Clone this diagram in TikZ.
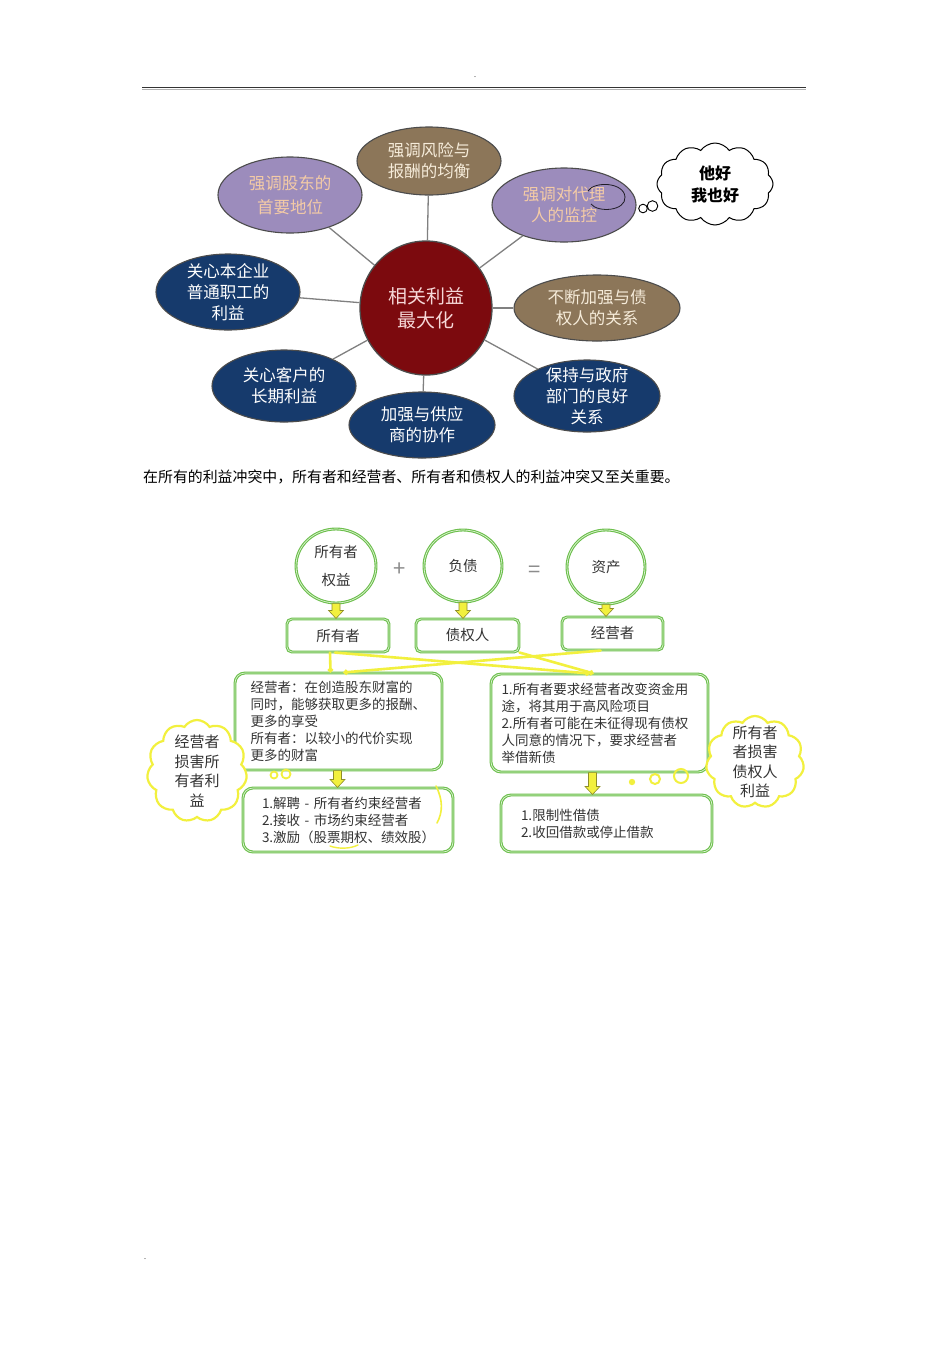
\documentclass[tikz,border=0pt]{standalone}
\usepackage{fontspec}
\setmainfont{Liberation Serif}
\newfontfamily\cjk{Noto Sans CJK SC}
\usetikzlibrary{shapes.geometric,shapes.symbols,arrows.meta,calc}

\definecolor{hubred}{HTML}{7C0A0E}
\definecolor{hubtext}{HTML}{F6D8D8}
\definecolor{taupe}{HTML}{8C7659}
\definecolor{lilac}{HTML}{9C8CBC}
\definecolor{navy}{HTML}{163A6C}
\definecolor{peach}{HTML}{F4CBA6}
\definecolor{cream}{HTML}{F6ECDA}
\definecolor{leaf}{HTML}{6CBF4C}
\definecolor{paleleaf}{HTML}{DDF2D3}
\definecolor{lemon}{HTML}{F2F03E}
\definecolor{mossy}{HTML}{8E8E28}

% fat yellow arrow, #1 top point, #2 tip point
\newcommand{\fatdown}[2]{%
  \path #1 coordinate (fa1);
  \path #2 coordinate (fa2);
  \filldraw[fill=lemon, draw=mossy, line width=0.6pt]
    ($(fa1)+(-4,0)$) -- ($(fa2)+(-4,-8)$) -- ($(fa2)+(-7.5,-8)$) -- (fa2)
    -- ($(fa2)+(7.5,-8)$) -- ($(fa2)+(4,-8)$) -- ($(fa1)+(4,0)$) -- cycle;
}

\begin{document}
\begin{tikzpicture}[x=1pt, y=-1pt,
  bubble/.style={ellipse, draw=black!70, line width=1.1pt, inner sep=-4pt, align=center,
    font=\cjk\fontsize{16.5}{21}\selectfont},
  lilacbubble/.style={bubble, fill=lilac, text=peach},
  taupebubble/.style={bubble, fill=taupe, text=cream},
  navybubble/.style={bubble, fill=navy, text=white},
  spoke/.style={draw=black!50, line width=1.3pt},
  greenline/.style={draw=leaf, line width=1.1pt, double=paleleaf, double distance=0.7pt},
  roundel/.style={ellipse, greenline, fill=white, inner sep=-2pt, align=center,
    font=\cjk\fontsize{14.5}{28}\selectfont, text=black!80},
  rolebox/.style={rounded corners=5pt, greenline, fill=white, inner sep=0pt,
    font=\cjk\fontsize{14.5}{17}\selectfont, text=black!80},
  notebox/.style={rounded corners=10pt, greenline, fill=white, align=left, inner ysep=0pt,
    font=\cjk\fontsize{13.5}{17}\selectfont, text=black!80},
  link/.style={draw=lemon, line width=2.6pt, line cap=round, -{Circle[length=5pt]}},
  yellowcloud/.style={cloud, cloud puffs=11, cloud puff arc=115, cloud ignores aspect,
    draw=lemon, line width=2.2pt, fill=white},
  cloudtext/.style={align=center, font=\cjk\fontsize{15}{19.5}\selectfont, text=black!80},
  thought/.style={cloud, cloud puffs=12, cloud puff arc=110, cloud ignores aspect,
    draw=black, line width=1pt, fill=white}]

  \fill[white] (0,0) rectangle (950,1345);
  \useasboundingbox (0,0) rectangle (950,1345);

  % page header and footer
  \node[font=\fontsize{8}{8}\selectfont] (topdot) at (475,77) {.};
  \draw[line width=1.4pt, black!80] (142,87.5) -- (806,87.5);
  \draw[line width=0.6pt, black!30] (142,89.4) -- (806,89.4);
  \node[font=\fontsize{8}{8}\selectfont] (footdot) at (145,1259) {.};

  % stakeholder map
  \node[ellipse, draw=black!70, line width=1.3pt, fill=hubred, text=hubtext, inner sep=0pt,
    minimum width=132, minimum height=134, align=center,
    font=\cjk\fontsize{19}{24}\selectfont] (hub) at (426,308) {相关利益\\最大化};
  \node[taupebubble, minimum width=144, minimum height=68] (risk) at (429,161) {强调风险与\\报酬的均衡};
  \node[lilacbubble, minimum width=144, minimum height=76,
    font=\cjk\fontsize{16.5}{24}\selectfont] (holder) at (290,195) {强调股东的\\首要地位};
  \node[lilacbubble, minimum width=144, minimum height=74] (agent) at (564,205) {强调对代理\\人的监控};
  \node[navybubble, minimum width=144, minimum height=76] (staff) at (228,292) {关心本企业\\普通职工的\\利益};
  \node[taupebubble, minimum width=166, minimum height=66] (credit) at (597,308) {不断加强与债\\权人的关系};
  \node[navybubble, minimum width=144, minimum height=72] (client) at (284,386) {关心客户的\\长期利益};
  \node[navybubble, minimum width=146, minimum height=66] (supply) at (422,425) {加强与供应\\商的协作};
  \node[navybubble, minimum width=146, minimum height=72] (gov) at (587,396) {保持与政府\\部门的良好\\关系};
  \foreach \b in {risk,holder,agent,staff,credit,client,supply,gov}
    \draw[spoke] (hub) -- (\b);
  % loop drawn round "代"
  \draw[black!80!lilac, line width=0.8pt] (588,191) .. controls (594,181) and (624,182) .. (625,197)
    .. controls (626,211) and (598,213) .. (591,204);

  % thought cloud
  \node[thought, minimum width=116, minimum height=82] (think) at (715,184) {};
  \node[align=center, font=\cjk\bfseries\fontsize{16}{22}\selectfont] (thinktext) at (think.center) {他好\\我也好};
  \draw[line width=0.9pt, fill=white] (643,208.5) circle (4.3);
  \draw[line width=0.9pt, fill=white] (652.5,206) circle (5.3);

  % caption
  \node[anchor=base west, inner sep=0pt, font=\cjk\fontsize{14.9}{17}\selectfont] (caption) at (143,482)
    {在所有的利益冲突中，所有者和经营者、所有者和债权人的利益冲突又至关重要。};

  % accounting equation
  \node[roundel, minimum width=80, minimum height=74] (eq1) at (336,566) {所有者\\权益};
  \node[font=\cjk\fontsize{22}{22}\selectfont, text=black!45] (plus) at (400,570) {+};
  \node[roundel, minimum width=78, minimum height=72] (eq2) at (463,566) {负债};
  \node[font=\cjk\fontsize{22}{22}\selectfont, text=black!45] (equal) at (535,572) {=};
  \node[roundel, minimum width=78, minimum height=74] (eq3) at (606,567) {资产};

  \node[rolebox, minimum width=102, minimum height=33] (role1) at (338,635.5) {所有者};
  \node[rolebox, minimum width=103, minimum height=33] (role2) at (467.5,635.5) {债权人};
  \node[rolebox, minimum width=101, minimum height=33] (role3) at (612.5,633.5) {经营者};
  \fatdown{(eq1.south)}{(eq1.south |- role1.north)}
  \fatdown{(eq2.south)}{(eq2.south |- role2.north)}
  \fatdown{(eq3.south)}{(eq3.south |- role3.north)}

  % conflicts
  \node[notebox, text width=176, inner xsep=15.5, minimum height=97] (clash1) at (338.5,721.5)
    {经营者：在创造股东财富的\\同时，能够获取更多的报酬、\\更多的享受\\所有者：以较小的代价实现\\更多的财富};
  \node[notebox, text width=196, inner xsep=10.5, minimum height=98] (clash2) at (599.5,723)
    {1.所有者要求经营者改变资金用\\途，将其用于高风险项目\\2.所有者可能在未征得现有债权\\人同意的情况下，要求经营者\\举借新债};
  \draw[link] ([xshift=-8pt]role1.south) -- ([xshift=-8pt]clash1.north);
  \draw[link] ([xshift=-3pt]role1.south) -- ([xshift=-10pt]clash2.north);
  \draw[link] ([xshift=-12pt]role3.south) -- ([xshift=5pt]clash1.north);
  \draw[link] (role2.south east) -- ([xshift=-6pt]clash2.north);

  % remedies
  \node[notebox, text width=172, inner xsep=19, minimum height=64] (fix1) at (348,820)
    {1.解聘 - 所有者约束经营者\\2.接收 - 市场约束经营者\\3.激励（股票期权、绩效股）};
  \node[notebox, text width=171, inner xsep=20, minimum height=57] (fix2) at (606.5,823.5)
    {1.限制性借债\\2.收回借款或停止借款};
  \fatdown{([xshift=-1pt]clash1.south)}{([xshift=-1pt]clash1.south |- fix1.north)}
  \fatdown{([xshift=-7pt]clash2.south)}{([xshift=-7pt]clash2.south |- fix2.north)}
  \draw[lemon, line width=1.6pt, line cap=round] (436,786) .. controls (443,800) and (443,812) .. (437,823);
  \draw[lemon, line width=1.4pt, line cap=round] (330,846) .. controls (338,849) and (350,849) .. (358,845);

  % yellow clouds
  \node[yellowcloud, minimum width=100, minimum height=102] (hurt1) at (197,771) {};
  \node[cloudtext] (hurt1text) at (hurt1.center) {经营者\\损害所\\有者利\\益};
  \draw[lemon, line width=1.8pt] (274,775) circle (3.5);
  \draw[lemon, line width=1.8pt] (286,774) circle (4.5);
  \node[yellowcloud, minimum width=98, minimum height=92] (hurt2) at (755,762) {};
  \node[cloudtext] (hurt2text) at (hurt2.center) {所有者\\者损害\\债权人\\利益};
  \fill[lemon] (632,782) circle (3.2);
  \draw[lemon, line width=2pt] (655,779) circle (5);
  \draw[lemon, line width=2pt] (681,776) circle (7);
\end{tikzpicture}
\end{document}
